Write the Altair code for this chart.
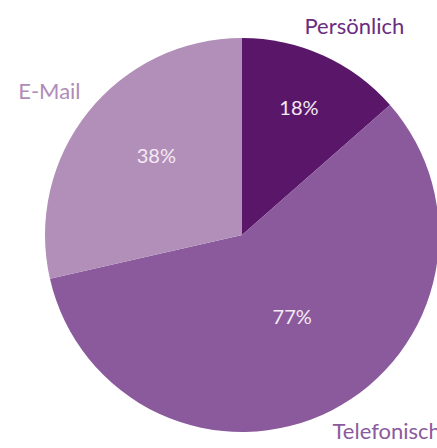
import altair as alt
import pandas as pd

categories = ["Persönlich", "Telefonisch", "E-Mail"]
values = [18, 77, 38]
pct_labels = ["18%", "77%", "38%"]
slice_colors = ["#5A176A", "#8B5A9D", "#B28FB9"]
name_colors = ["#6A2D80", "#8B5A9D", "#B08CB8"]

total = sum(values)
df = pd.DataFrame({
    "kanal": categories,
    "wert": values,
    "rang": list(range(len(categories))),
    "text": pct_labels,
})

CX, CY, R = 242, 235, 197
FONT = "Lato"

base = alt.Chart(df).transform_stack(
    stack="wert", groupby=[], as_=["s0", "s1"], sort=[alt.SortField("rang")]
).transform_calculate(mid="(datum.s0 + datum.s1) / 2")

theta_scale = alt.Scale(domain=[0, total], range=[0, 6.283185307179586])

pie = base.mark_arc(radius=R, strokeWidth=0).encode(
    theta=alt.Theta("s0:Q", scale=theta_scale),
    theta2="s1:Q",
    x=alt.value(CX),
    y=alt.value(CY),
    color=alt.Color("kanal:N", scale=alt.Scale(domain=categories, range=slice_colors), legend=None),
)

def pct_layer(cat, radius, dx, dy):
    return base.transform_filter(alt.datum.kanal == cat).mark_text(
        radius=radius, dx=dx, dy=dy, font=FONT, fontSize=20,
        color="#F3EAF4", align="center", baseline="middle"
    ).encode(
        theta=alt.Theta("mid:Q", scale=theta_scale),
        x=alt.value(CX),
        y=alt.value(CY),
        text="text:N",
    )

def name_layer(cat, color, radius, dx, dy, align="center"):
    return base.transform_filter(alt.datum.kanal == cat).mark_text(
        radius=radius, dx=dx, dy=dy, font=FONT, fontSize=22,
        color=color, align=align, baseline="middle"
    ).encode(
        theta=alt.Theta("mid:Q", scale=theta_scale),
        x=alt.value(CX),
        y=alt.value(CY),
        text="kanal:N",
    )

chart = alt.layer(
    pie,
    pct_layer("Persönlich", 138, 0, 0),
    pct_layer("E-Mail", 116, 5, -6),
    pct_layer("Telefonisch", 97, 6, -3),
    name_layer("Persönlich", name_colors[0], 236, 15, 7),
    name_layer("E-Mail", name_colors[2], 240, -5, 7),
    name_layer("Telefonisch", name_colors[1], 210, -5, 10, align="left"),
).properties(
    width=437, height=448, autosize=alt.AutoSizeParams(type="none"), padding=0
).configure_view(stroke=None)

chart.save("out.html", embed_options={"renderer": "svg", "actions": False})
